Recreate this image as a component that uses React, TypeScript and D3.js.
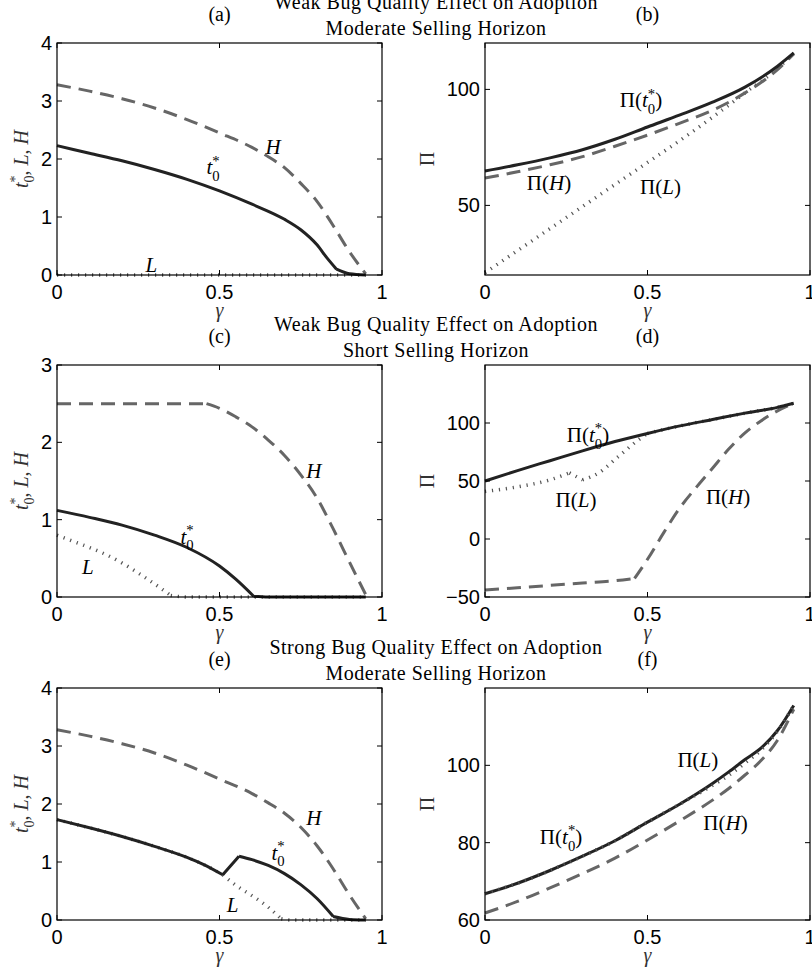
import React from "react";
import * as d3 from "d3";

const width = 812;
const height = 974;
const serif = "'Liberation Serif', 'DejaVu Serif', serif";
const sans = "'Liberation Sans', Arial, sans-serif";

// ---- data ----
const xTicks = [0, 0.5, 1];

// (a) weak bug effect, moderate horizon
const gA_H = [0, 0.1, 0.2, 0.3, 0.4, 0.5, 0.6, 0.65, 0.7, 0.75, 0.8, 0.85, 0.9, 0.95];
const vA_H = [3.28, 3.17, 3.04, 2.88, 2.68, 2.45, 2.2, 2.04, 1.85, 1.58, 1.27, 0.85, 0.4, 0.02];
const gA_T = [0, 0.1, 0.2, 0.3, 0.4, 0.5, 0.6, 0.7, 0.75, 0.8, 0.83, 0.86, 0.9, 0.95];
const vA_T = [2.23, 2.1, 1.97, 1.82, 1.65, 1.45, 1.22, 0.96, 0.78, 0.52, 0.3, 0.1, 0.02, 0];
const gA_L = [0, 0.95];
const vA_L = [0, 0];
const yTicksA = [0, 1, 2, 3, 4];

// (b)
const gB = [0, 0.1, 0.2, 0.3, 0.4, 0.5, 0.6, 0.7, 0.8, 0.9, 0.95];
const vB_T = [64.8, 67.5, 70.5, 74, 78.5, 83.8, 89, 94.5, 101, 110, 115.7];
const vB_H = [61.8, 64.5, 67.5, 71, 75.5, 80.3, 85.5, 91, 98.5, 108.5, 115.3];
const vB_L = [21, 30.5, 40, 49.5, 59, 68.5, 78, 88, 98.5, 109, 115.5];
const yTicksB = [50, 100];

// (c) weak bug effect, short horizon
const gC_H = [0, 0.46, 0.5, 0.55, 0.6, 0.65, 0.7, 0.75, 0.8, 0.85, 0.9, 0.95];
const vC_H = [2.5, 2.5, 2.44, 2.33, 2.2, 2.03, 1.83, 1.58, 1.28, 0.88, 0.45, 0.03];
const gC_T = [0, 0.1, 0.2, 0.3, 0.4, 0.5, 0.55, 0.605, 0.65, 0.95];
const vC_T = [1.12, 1.03, 0.93, 0.8, 0.64, 0.4, 0.23, 0.01, 0, 0];
const gC_L = [0, 0.05, 0.1, 0.15, 0.2, 0.25, 0.3, 0.35, 0.4, 0.95];
const vC_L = [0.8, 0.72, 0.64, 0.55, 0.44, 0.31, 0.17, 0.02, 0, 0];
const yTicksC = [0, 1, 2, 3];

// (d)
const gD_T = [0, 0.1, 0.2, 0.3, 0.4, 0.5, 0.6, 0.7, 0.8, 0.9, 0.95];
const vD_T = [50, 59, 67.5, 76, 84, 91, 97.5, 103, 108.5, 113.5, 117];
const gD_L = [0, 0.1, 0.2, 0.26, 0.3, 0.35, 0.41, 0.47, 0.5, 0.6, 0.7, 0.8, 0.9, 0.95];
const vD_L = [41, 45, 51, 57, 51, 57, 71, 85, 91, 97.5, 103, 108.5, 113.5, 117];
const gD_H = [0, 0.1, 0.2, 0.3, 0.4, 0.46, 0.5, 0.55, 0.6, 0.65, 0.7, 0.75, 0.8, 0.85, 0.9, 0.95];
const vD_H = [-44, -42, -40, -38, -36, -34, -17.5, 5.5, 27, 44.5, 61, 77.5, 91.5, 102, 110.5, 117];
const yTicksD = [-50, 0, 50, 100];

// (e) strong bug effect, moderate horizon
const gE_H = [0, 0.1, 0.2, 0.3, 0.4, 0.5, 0.6, 0.65, 0.7, 0.75, 0.8, 0.85, 0.9, 0.95];
const vE_H = [3.28, 3.17, 3.04, 2.88, 2.67, 2.43, 2.18, 2.02, 1.84, 1.6, 1.28, 0.88, 0.43, 0.02];
const gE_T = [0, 0.1, 0.2, 0.3, 0.4, 0.45, 0.51, 0.56, 0.6, 0.65, 0.7, 0.75, 0.8, 0.85, 0.9, 0.95];
const vE_T = [1.73, 1.59, 1.44, 1.27, 1.08, 0.96, 0.78, 1.1, 1.04, 0.94, 0.8, 0.61, 0.37, 0.06, 0.01, 0];
const gE_L = [0, 0.1, 0.2, 0.3, 0.4, 0.45, 0.51, 0.55, 0.6, 0.65, 0.69, 0.72, 0.95];
const vE_L = [1.73, 1.59, 1.44, 1.27, 1.08, 0.96, 0.78, 0.6, 0.42, 0.22, 0.02, 0, 0];
const yTicksE = [0, 1, 2, 3, 4];

// (f)
const gF = [0, 0.1, 0.2, 0.3, 0.4, 0.5, 0.6, 0.7, 0.75, 0.8, 0.85, 0.9, 0.95];
const vF_T = [66.8, 69.5, 72.8, 76.5, 80.5, 85.3, 90, 95.3, 98.3, 101.5, 104.5, 109, 115.5];
const vF_L = [66.8, 69.5, 72.8, 76.5, 80.5, 85.3, 90, 94.8, 97.4, 100.6, 104, 108.8, 115.5];
const vF_H = [61.8, 64.8, 68.3, 72, 76, 80.7, 85.7, 91, 94, 97.5, 101.3, 106.5, 114.5];
const yTicksF = [60, 80, 100];

const titlesTop = [
  "Weak Bug Quality Effect on Adoption",
  "Weak Bug Quality Effect on Adoption",
  "Strong Bug Quality Effect on Adoption"
];
const titlesBottom = ["Moderate Selling Horizon", "Short Selling Horizon", "Moderate Selling Horizon"];
// ---------------------------------------

const styles = {
  solid: { stroke: "#222", width: 3, dash: null },
  dashed: { stroke: "#666", width: 3, dash: "14 8" },
  dotted: { stroke: "#555", width: 3.5, dash: "1.2 5.8" }
};

const pw = 325;
const ph = 232;
const colX = [57, 485];
const rowY = [43, 365, 688];

// t with stacked sub 0 and sup *, then the following text back on the baseline
function TStar({ size, after }) {
  return (
    <>
      <tspan fontStyle="italic">t</tspan>
      <tspan dy={-0.42 * size} fontSize={size * 0.7}>*</tspan>
      <tspan dx={-0.35 * size} dy={0.72 * size} fontSize={size * 0.7}>0</tspan>
      {after ? <tspan dy={-0.3 * size}>{after}</tspan> : null}
    </>
  );
}

function LabelBody({ kind, size }) {
  if (kind === "t0") return <TStar size={size} />;
  if (kind === "L" || kind === "H") return <tspan fontStyle="italic">{kind}</tspan>;
  if (kind === "Pt0")
    return (
      <>
        {"Π("}
        <TStar size={size} after=")" />
      </>
    );
  return (
    <>
      {"Π("}
      <tspan fontStyle="italic">{kind.slice(1)}</tspan>
      {")"}
    </>
  );
}

function Panel({ x0, y0, yDomain, yTicks, series, labels, letter, left }) {
  const xs = d3.scaleLinear().domain([0, 1]).range([x0, x0 + pw]);
  const ys = d3.scaleLinear().domain(yDomain).range([y0 + ph, y0]);
  const fmt = (v) => (v < 0 ? "\u2212" + Math.abs(v) : String(v));
  const tl = 5;

  const pathFor = (s) => {
    const pts = s.g.map((g, j) => [g, s.v[j]]);
    const line = d3
      .line()
      .x((d) => xs(d[0]))
      .y((d) => ys(d[1]))
      .curve(d3.curveMonotoneX);
    // split at kinks so the corners stay sharp
    const cuts = (s.breaks || []).map((b) => s.g.indexOf(b)).filter((i) => i > 0);
    let d = "";
    let start = 0;
    [...cuts, pts.length - 1].forEach((c) => {
      d += line(pts.slice(start, c + 1));
      start = c;
    });
    return d;
  };

  return (
    <g>
      {series.map((s, i) => {
        const st = styles[s.style];
        return (
          <path
            key={i}
            d={pathFor(s)}
            fill="none"
            stroke={st.stroke}
            strokeWidth={st.width}
            strokeDasharray={st.dash || undefined}
            strokeLinejoin="round"
          />
        );
      })}
      <rect x={x0} y={y0} width={pw} height={ph} fill="none" stroke="#000" strokeWidth={1.2} />
      {xTicks.map((t) => (
        <g key={"x" + t}>
          <line x1={xs(t)} x2={xs(t)} y1={y0 + ph} y2={y0 + ph - tl} stroke="#000" />
          <line x1={xs(t)} x2={xs(t)} y1={y0} y2={y0 + tl} stroke="#000" />
          <text x={xs(t)} y={y0 + ph + 24} textAnchor="middle" fontFamily={sans} fontSize={20}>
            {String(t)}
          </text>
        </g>
      ))}
      {yTicks.map((t) => (
        <g key={"y" + t}>
          <line x1={x0} x2={x0 + tl} y1={ys(t)} y2={ys(t)} stroke="#000" />
          <line x1={x0 + pw} x2={x0 + pw - tl} y1={ys(t)} y2={ys(t)} stroke="#000" />
          <text x={x0 - 5} y={ys(t) + 7} textAnchor="end" fontFamily={sans} fontSize={20}>
            {fmt(t)}
          </text>
        </g>
      ))}
      <text x={xs(0.5)} y={y0 + ph + 42} textAnchor="middle" fontFamily={serif} fontSize={20} fontStyle="italic" fill="#333">
        γ
      </text>
      <text x={xs(0.5)} y={y0 - 22} textAnchor="middle" fontFamily={serif} fontSize={20}>
        {"(" + letter + ")"}
      </text>
      <text
        transform={`translate(${left ? x0 - 29 : x0 - 51},${y0 + ph / 2}) rotate(-90)`}
        textAnchor="middle"
        fontFamily={serif}
        fontSize={20}
        fill="#333"
      >
        {left ? (
          <>
            <TStar size={20} after=", " />
            <tspan fontStyle="italic">L</tspan>
            {", "}
            <tspan fontStyle="italic">H</tspan>
          </>
        ) : (
          "Π"
        )}
      </text>
      {labels.map((l, i) => (
        <text key={i} x={xs(l.g)} y={ys(l.v)} dy="0.35em" textAnchor="middle" fontFamily={serif} fontSize={21}>
          <LabelBody kind={l.kind} size={21} />
        </text>
      ))}
    </g>
  );
}

export default function App() {
  const panels = [
    {
      letter: "a", col: 0, row: 0, yDomain: [0, 4], yTicks: yTicksA,
      series: [
        { g: gA_L, v: vA_L, style: "dotted" },
        { g: gA_H, v: vA_H, style: "dashed" },
        { g: gA_T, v: vA_T, style: "solid", breaks: [0.86] }
      ],
      labels: [
        { kind: "H", g: 0.665, v: 2.21 },
        { kind: "t0", g: 0.48, v: 1.86 },
        { kind: "L", g: 0.29, v: 0.17 }
      ]
    },
    {
      letter: "b", col: 1, row: 0, yDomain: [20, 120], yTicks: yTicksB,
      series: [
        { g: gB, v: vB_L, style: "dotted" },
        { g: gB, v: vB_H, style: "dashed" },
        { g: gB, v: vB_T, style: "solid" }
      ],
      labels: [
        { kind: "Pt0", g: 0.48, v: 95.4 },
        { kind: "PH", g: 0.197, v: 59.7 },
        { kind: "PL", g: 0.54, v: 57.9 }
      ]
    },
    {
      letter: "c", col: 0, row: 1, yDomain: [0, 3], yTicks: yTicksC,
      series: [
        { g: gC_L, v: vC_L, style: "dotted", breaks: [0.35] },
        { g: gC_H, v: vC_H, style: "dashed", breaks: [0.46] },
        { g: gC_T, v: vC_T, style: "solid", breaks: [0.605] }
      ],
      labels: [
        { kind: "t0", g: 0.4, v: 0.78 },
        { kind: "L", g: 0.095, v: 0.39 },
        { kind: "H", g: 0.79, v: 1.64 }
      ]
    },
    {
      letter: "d", col: 1, row: 1, yDomain: [-50, 150], yTicks: yTicksD,
      series: [
        { g: gD_L, v: vD_L, style: "dotted", breaks: [0.26, 0.3, 0.5] },
        { g: gD_H, v: vD_H, style: "dashed", breaks: [0.46] },
        { g: gD_T, v: vD_T, style: "solid" }
      ],
      labels: [
        { kind: "Pt0", g: 0.317, v: 89.7 },
        { kind: "PL", g: 0.28, v: 33.6 },
        { kind: "PH", g: 0.748, v: 36.2 }
      ]
    },
    {
      letter: "e", col: 0, row: 2, yDomain: [0, 4], yTicks: yTicksE,
      series: [
        { g: gE_L, v: vE_L, style: "dotted", breaks: [0.51, 0.69] },
        { g: gE_H, v: vE_H, style: "dashed" },
        { g: gE_T, v: vE_T, style: "solid", breaks: [0.51, 0.56, 0.85] }
      ],
      labels: [
        { kind: "H", g: 0.79, v: 1.76 },
        { kind: "t0", g: 0.68, v: 1.16 },
        { kind: "L", g: 0.54, v: 0.26 }
      ]
    },
    {
      letter: "f", col: 1, row: 2, yDomain: [60, 120], yTicks: yTicksF,
      series: [
        { g: gF, v: vF_H, style: "dashed" },
        { g: gF, v: vF_T, style: "solid" },
        { g: gF, v: vF_L, style: "dotted" }
      ],
      labels: [
        { kind: "Pt0", g: 0.234, v: 81.5 },
        { kind: "PL", g: 0.655, v: 101.4 },
        { kind: "PH", g: 0.74, v: 85.1 }
      ]
    }
  ];

  return (
    <svg width={width} height={height} style={{ position: "absolute", left: 0, top: 0, background: "#fff" }}>
      {rowY.map((y, i) => (
        <g key={"t" + i} fontFamily={serif} fontSize={20} textAnchor="middle" letterSpacing={0.5}>
          <text x={436} y={y - 34}>{titlesTop[i]}</text>
          <text x={436} y={y - 8}>{titlesBottom[i]}</text>
        </g>
      ))}
      {panels.map((p) => (
        <Panel
          key={p.letter}
          x0={colX[p.col]}
          y0={rowY[p.row]}
          yDomain={p.yDomain}
          yTicks={p.yTicks}
          series={p.series}
          labels={p.labels}
          letter={p.letter}
          left={p.col === 0}
        />
      ))}
    </svg>
  );
}
